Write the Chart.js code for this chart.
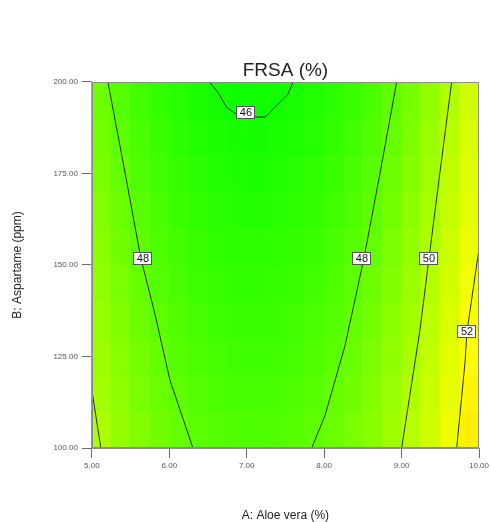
<!DOCTYPE html>
<html>
<head>
<meta charset="utf-8">
<script src="https://cdn.jsdelivr.net/npm/chart.js@4.4.1/dist/chart.umd.min.js"></script>
<style>
  html, body { margin: 0; padding: 0; background: #ffffff; }
  #wrap { width: 491px; height: 522px; }
</style>
</head>
<body>
<div id="wrap"><canvas id="c" width="491" height="522"></canvas></div>
<script>
// ---- data ----
const xTickValues = [5, 6, 7, 8, 9, 10];
const yTickValues = [100, 125, 150, 175, 200];
const colCenters = [5.125, 5.375, 5.625, 5.875, 6.125, 6.375, 6.625, 6.875, 7.125, 7.375,
                    7.625, 7.875, 8.125, 8.375, 8.625, 8.875, 9.125, 9.375, 9.625, 9.875];
const rowEdges = [100, 110, 120, 130, 140, 150, 160, 170, 180, 190, 200];
// FRSA (%) estimated per cell, rows from bottom (B=100) to top (B=200)
const frsaGrid = [
  [49.91, 49.33, 48.84, 48.42, 48.08, 47.82, 47.64, 47.54, 47.52, 47.58, 47.72, 47.93, 48.23, 48.60, 49.05, 49.59, 50.20, 50.89, 51.65, 52.50],
  [49.73, 49.15, 48.66, 48.24, 47.90, 47.64, 47.46, 47.36, 47.34, 47.40, 47.54, 47.75, 48.05, 48.42, 48.87, 49.41, 50.02, 50.71, 51.47, 52.32],
  [49.55, 48.97, 48.48, 48.06, 47.72, 47.46, 47.28, 47.18, 47.16, 47.22, 47.36, 47.57, 47.87, 48.24, 48.69, 49.23, 49.84, 50.53, 51.29, 52.14],
  [49.37, 48.79, 48.30, 47.88, 47.54, 47.28, 47.10, 47.00, 46.98, 47.04, 47.18, 47.39, 47.69, 48.06, 48.51, 49.05, 49.66, 50.35, 51.11, 51.96],
  [49.19, 48.61, 48.12, 47.70, 47.36, 47.10, 46.92, 46.82, 46.80, 46.86, 47.00, 47.21, 47.51, 47.88, 48.33, 48.87, 49.48, 50.17, 50.93, 51.78],
  [49.01, 48.43, 47.94, 47.52, 47.18, 46.92, 46.74, 46.64, 46.62, 46.68, 46.82, 47.03, 47.33, 47.70, 48.15, 48.69, 49.30, 49.99, 50.75, 51.60],
  [48.83, 48.25, 47.76, 47.34, 47.00, 46.74, 46.56, 46.46, 46.44, 46.50, 46.64, 46.85, 47.15, 47.52, 47.97, 48.51, 49.12, 49.81, 50.57, 51.42],
  [48.65, 48.07, 47.58, 47.16, 46.82, 46.56, 46.38, 46.28, 46.26, 46.32, 46.46, 46.67, 46.97, 47.34, 47.79, 48.33, 48.94, 49.63, 50.39, 51.24],
  [48.47, 47.89, 47.40, 46.98, 46.64, 46.38, 46.20, 46.10, 46.08, 46.14, 46.28, 46.49, 46.79, 47.16, 47.61, 48.15, 48.76, 49.45, 50.21, 51.06],
  [48.29, 47.71, 47.22, 46.80, 46.46, 46.20, 46.02, 45.92, 45.90, 45.96, 46.10, 46.31, 46.61, 46.98, 47.43, 47.97, 48.58, 49.27, 50.03, 50.88]
];
// contour lines (A, B)
const contour46 = [[6.52, 200], [6.64, 196.8], [6.74, 193.0], [6.88, 191.0], [7.05, 190.4], [7.24, 190.4], [7.53, 196.6], [7.60, 200]];
const contour48Left = [[5.207, 200], [5.43, 175], [5.633, 151.8], [5.81, 137], [6.008, 118.6], [6.305, 100]];
const contour48Right = [[8.937, 200], [8.73, 176], [8.514, 151.8], [8.269, 127.9], [8.01, 108.8], [7.839, 100]];
const contour50Left = [[5.0, 115.8], [5.116, 100]];
const contour50Right = [[9.647, 200], [9.50, 176], [9.354, 151.8], [9.238, 132.3], [9.001, 100]];
const contour52 = [[10.0, 154.4], [9.845, 131.8], [9.819, 123.3], [9.712, 100]];
const contourLabelText = ['46', '48', '48', '50', '52'];
const contourLabelA = [6.99, 5.659, 8.488, 9.354, 9.845];
const contourLabelB = [191.6, 151.8, 151.8, 151.8, 131.8];

// ---- colour map (Design-Expert style: green -> yellow -> red) ----
function cellColor(v) {
  const t = (v - 45.5) / 6.6;
  let r, g;
  if (t <= 1) { r = Math.max(0, t) * 255; g = 255; }
  else { r = 255; g = Math.max(0, 2 - t) * 255; }
  return 'rgb(' + Math.round(r) + ',' + Math.round(g) + ',0)';
}

const topB = rowEdges[rowEdges.length - 1];
const datasets = [];
frsaGrid.forEach((row, ri) => {
  const cols = row.map(cellColor);
  // each band reaches to the top; the band above is painted over it (no seams)
  datasets.push({
    type: 'bar',
    data: colCenters.map(x => ({ x: x, y: [rowEdges[ri], topB] })),
    backgroundColor: cols,
    borderWidth: 0,
    grouped: false,
    barPercentage: 1.055,
    categoryPercentage: 1,
    order: 40 - ri
  });
});
[contour46, contour48Left, contour48Right, contour50Left, contour50Right, contour52].forEach(c => {
  datasets.push({
    type: 'line',
    data: c.map(p => ({ x: p[0], y: p[1] })),
    borderColor: '#2a2a2a',
    borderWidth: 1,
    pointRadius: 0,
    fill: false,
    tension: 0,
    order: 1
  });
});

const labelPlugin = {
  id: 'contourLabels',
  afterDatasetsDraw(chart) {
    const ctx = chart.ctx, xs = chart.scales.x, ys = chart.scales.y, a = chart.chartArea;
    ctx.save();
    ctx.strokeStyle = '#8c8c8c';
    ctx.lineWidth = 1;
    ctx.strokeRect(Math.round(a.left) + 0.5, Math.round(a.top) + 0.5, Math.round(a.right - a.left) - 1, Math.round(a.bottom - a.top) - 1);
    ctx.font = '11px "Liberation Sans", Arial, sans-serif';
    ctx.textAlign = 'center';
    ctx.textBaseline = 'middle';
    contourLabelText.forEach((t, i) => {
      const px = xs.getPixelForValue(contourLabelA[i]);
      const py = ys.getPixelForValue(contourLabelB[i]);
      const w = 19, h = 13;
      ctx.fillStyle = '#ffffff';
      ctx.fillRect(Math.round(px - w / 2), Math.round(py - h / 2), w, h);
      ctx.strokeStyle = '#555555';
      ctx.strokeRect(Math.round(px - w / 2) + 0.5, Math.round(py - h / 2) + 0.5, w - 1, h - 1);
      ctx.fillStyle = '#111111';
      ctx.fillText(t, px, py + 0.5);
    });
    ctx.restore();
  }
};

new Chart(document.getElementById('c'), {
  type: 'bar',
  data: { datasets: datasets },
  options: {
    responsive: false,
    animation: false,
    layout: { padding: { left: 0, right: 12, top: 0, bottom: 0 } },
    plugins: {
      legend: { display: false },
      tooltip: { enabled: false },
      title: {
        display: true,
        text: 'FRSA (%)',
        fullSize: false,
        color: '#222222',
        font: { family: '"Liberation Sans", Arial, sans-serif', size: 19, weight: 'normal', lineHeight: 1.1 },
        padding: { top: 60, bottom: 1 }
      }
    },
    scales: {
      x: {
        type: 'linear',
        min: 5, max: 10,
        offset: false,
        afterBuildTicks: s => { s.ticks = xTickValues.map(v => ({ value: v })); },
        afterFit: s => { s.paddingRight = 0; s.paddingLeft = 0; },
        ticks: {
          callback: v => Number(v).toFixed(2),
          color: '#555555',
          font: { family: '"Liberation Sans", Arial, sans-serif', size: 8 },
          padding: 3,
          maxRotation: 0,
          autoSkip: false
        },
        grid: { drawOnChartArea: false, drawTicks: true, tickLength: 10, color: '#6a6a6a', offset: false },
        border: { display: true, color: '#8c8c8c' },
        title: {
          display: true,
          text: 'A: Aloe vera (%)',
          color: '#222222',
          font: { family: '"Liberation Sans", Arial, sans-serif', size: 12, lineHeight: 1.0 },
          padding: { top: 36.4, bottom: 0 }
        }
      },
      y: {
        type: 'linear',
        min: 100, max: 200,
        afterBuildTicks: s => { s.ticks = yTickValues.map(v => ({ value: v })); },
        ticks: {
          callback: v => Number(v).toFixed(2),
          color: '#555555',
          font: { family: '"Liberation Sans", Arial, sans-serif', size: 8 },
          padding: 4,
          autoSkip: false
        },
        grid: { drawOnChartArea: false, drawTicks: true, tickLength: 10, color: '#6a6a6a' },
        border: { display: true, color: '#8c8c8c' },
        title: {
          display: true,
          text: 'B: Aspartame (ppm)',
          color: '#222222',
          font: { family: '"Liberation Sans", Arial, sans-serif', size: 12 },
          padding: { top: 10, bottom: 25 }
        }
      }
    }
  },
  plugins: [labelPlugin]
});
</script>
</body>
</html>
